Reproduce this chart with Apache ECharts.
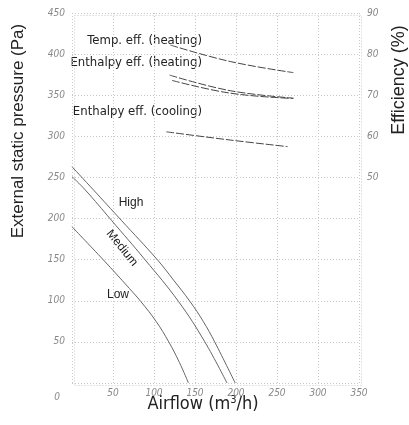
<!DOCTYPE html>
<html>
<head>
<meta charset="utf-8">
<script src="https://cdn.jsdelivr.net/npm/echarts@6/dist/echarts.min.js"></script>
<style>html,body{margin:0;padding:0;background:#fff;}#c{width:409px;height:425px;}</style>
</head>
<body>
<div id="c"></div>
<script>
// Fan curves: airflow (m3/h) vs external static pressure (Pa)
const highAirflow   = [0, 26, 60, 104, 124, 144, 160, 174, 199];
const highPressure  = [263, 235, 198, 150, 125, 99, 75, 50, 0];
const mediumAirflow = [0, 16, 48, 89, 130, 162, 189];
const mediumPressure= [251, 235, 198, 150, 99, 50, 0];
const lowAirflow    = [0, 38, 70, 84, 102.5, 118, 131, 142];
const lowPressure   = [190, 150, 115, 99, 75, 50, 25, 0];
// Efficiency curves: airflow vs efficiency (%)
const tempHeatAirflow = [120, 193, 270];
const tempHeatEff     = [82.2, 78.2, 75.5];
const enthHeatAAirflow = [119, 193, 270];
const enthHeatAEff     = [74.9, 71.1, 69.3];
const enthHeatBAirflow = [122, 193, 270];
const enthHeatBEff     = [73.6, 70.5, 69.2];
const enthCoolAirflow  = [115, 193, 263];
const enthCoolEff      = [61.1, 59.1, 57.5];
// Axis ticks
const xTicks = [0, 50, 100, 150, 200, 250, 300, 350];
const pressureTicks = [0, 50, 100, 150, 200, 250, 300, 350, 400, 450];
const effTicks = [50, 60, 70, 80, 90];

const zip = (a, b) => a.map((v, i) => [v, b[i]]);
const chart = echarts.init(document.getElementById('c'));
const tickFont = {color: '#888', fontStyle: 'italic', fontSize: 10, fontFamily: 'DejaVu Sans Condensed'};
const dotted = {lineStyle: {color: '#c8c8c8', type: [1, 2], width: 1}};
const curve = (data, yi, dashed) => ({
  type: 'line', data, yAxisIndex: yi, smooth: 0.4, symbol: 'none', silent: true,
  lineStyle: {color: dashed ? '#444' : '#666', width: 1, type: dashed ? [8, 2] : 'solid'}
});
chart.setOption({
  animation: false,
  grid: {left: 72, right: 50, top: 13, bottom: 42},
  xAxis: {
    type: 'value', min: 0, max: 350, interval: 50,
    axisLine: {show: false}, axisTick: {show: false},
    splitLine: {show: true, ...dotted},
    axisLabel: {...tickFont, margin: 5, formatter: v => (v === 0 ? '' : String(v))}
  },
  yAxis: [{
    type: 'value', min: 0, max: 450, interval: 50,
    axisLine: {show: false}, axisTick: {show: false},
    splitLine: {show: true, ...dotted},
    axisLabel: {...tickFont, margin: 7, formatter: v => (v === 0 ? '' : String(v))}
  }, {
    type: 'value', min: 0, max: 90, interval: 10, position: 'right',
    axisLine: {show: false}, axisTick: {show: false}, splitLine: {show: false},
    axisLabel: {...tickFont, margin: 8, formatter: v => (effTicks.includes(v) ? String(v) : '')}
  }],
  series: [
    curve(zip(highAirflow, highPressure), 0, false),
    curve(zip(mediumAirflow, mediumPressure), 0, false),
    curve(zip(lowAirflow, lowPressure), 0, false),
    curve(zip(tempHeatAirflow, tempHeatEff), 1, true),
    curve(zip(enthHeatAAirflow, enthHeatAEff), 1, true),
    curve(zip(enthHeatBAirflow, enthHeatBEff), 1, true),
    curve(zip(enthCoolAirflow, enthCoolEff), 1, true)
  ],
  graphic: [
    {type: 'rect', left: 72, top: 13, shape: {width: 287, height: 370}, style: {fill: 'none', stroke: '#c8c8c8', lineDash: [1, 2]}, silent: true, z: -1},
    {type: 'text', x: 57, y: 397, style: {text: '0', font: 'italic 10px "DejaVu Sans Condensed"', fill: '#888', align: 'center', verticalAlign: 'middle'}},
    {type: 'text', x: 18, y: 131, rotation: Math.PI / 2, style: {text: 'External static pressure (Pa)', font: '17px "Liberation Sans"', fill: '#222', align: 'center', verticalAlign: 'middle'}},
    {type: 'text', x: 399, y: 80, rotation: Math.PI / 2, style: {text: 'Efficiency (%)', font: '18px "Liberation Sans"', fill: '#222', align: 'center', verticalAlign: 'middle'}},
    {type: 'text', x: 203, y: 404, style: {
      text: 'Airflow (m{sup|3}/h)', fill: '#222', font: '18px "DejaVu Sans Condensed"', align: 'center', verticalAlign: 'middle',
      rich: {sup: {fontSize: 11, verticalAlign: 'top', padding: [0, 0, 8, 0], fontFamily: 'DejaVu Sans Condensed', fill: '#222'}}
    }},
    {type: 'text', x: 202, y: 41, style: {text: 'Temp. eff. (heating)', font: '13px "DejaVu Sans Condensed"', fill: '#222', align: 'right', verticalAlign: 'middle'}},
    {type: 'text', x: 202, y: 63, style: {text: 'Enthalpy eff. (heating)', font: '13px "DejaVu Sans Condensed"', fill: '#222', align: 'right', verticalAlign: 'middle'}},
    {type: 'text', x: 202, y: 112, style: {text: 'Enthalpy eff. (cooling)', font: '13px "DejaVu Sans Condensed"', fill: '#222', align: 'right', verticalAlign: 'middle'}},
    {type: 'text', x: 131, y: 203, style: {text: 'High', font: '12px "Liberation Sans"', fill: '#222', align: 'center', verticalAlign: 'middle'}},
    {type: 'text', x: 122, y: 248, rotation: -0.89, style: {text: 'Medium', font: '12px "Liberation Sans"', fill: '#222', align: 'center', verticalAlign: 'middle'}},
    {type: 'text', x: 118, y: 295, style: {text: 'Low', font: '12px "Liberation Sans"', fill: '#222', align: 'center', verticalAlign: 'middle'}}
  ]
});
</script>
</body>
</html>
